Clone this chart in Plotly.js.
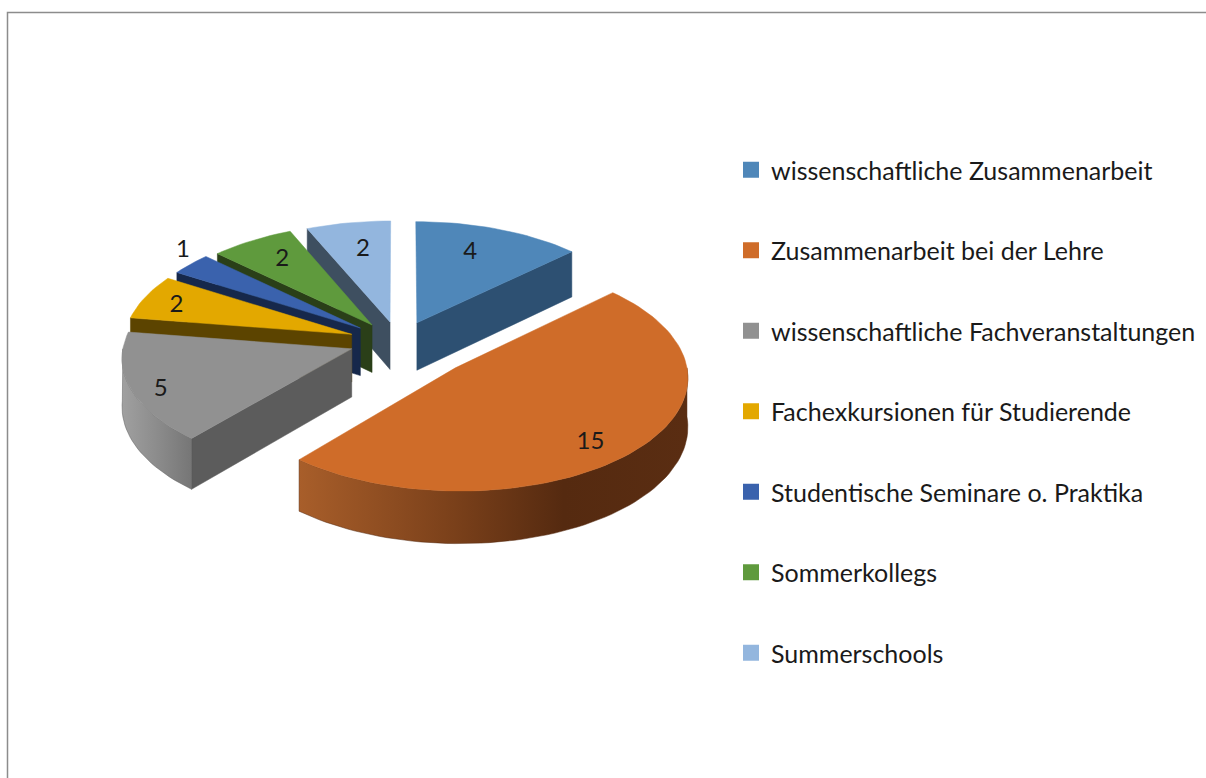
<!DOCTYPE html>
<html>
<head>
<meta charset="utf-8">
<script src="https://cdn.plot.ly/plotly-3.0.1.min.js"></script>
<style>html,body{margin:0;padding:0;background:#fff}#chart{width:1206px;height:778px}</style>
</head>
<body>
<div id="chart"></div>
<script>
// ---- data ----
const categories = [
  "wissenschaftliche Zusammenarbeit",
  "Zusammenarbeit bei der Lehre",
  "wissenschaftliche Fachveranstaltungen",
  "Fachexkursionen für Studierende",
  "Studentische Seminare o. Praktika",
  "Sommerkollegs",
  "Summerschools"
];
const values = [4, 15, 5, 2, 1, 2, 2];

// ---- style ----
const topColors  = ["#4f87b9", "#cf6c29", "#919191", "#e3a800", "#3a62ad", "#5f9a3d", "#93b6de"];
const wallColors = ["#2d5072", "#55290f", "#5c5c5c", "#5c4400", "#16284b", "#2a3f18", "#3e4f60"];
const rimGradients = {
  1: [[0, "#a85e2a"], [0.4, "#7a401a"], [0.68, "#552a10"], [1, "#5a2d12"]],
  2: [[0, "#a0a0a0"], [0.5, "#8c8c8c"], [1, "#767676"]]
};

// ---- projection of the tilted pie ----
const view = {cx: 400, cy: 343, rx: 228, ry: 111, depth: 48, persp: 0.07};
const explodeX = [0.19, 0.33, 0.225, 0.227, 0.222, 0.217, 0.22];
const explodeY = [0.2, 0.32, 0.15, 0.227, 0.222, 0.2, 0.195];
const labelAt = [[0.44, 0.72], [0.53, 0.83], [0.44, 0.884], [0.42, 0.834], [0.85, 1.12], [0.53, 0.75], [0.55, 0.71]];
const paintOrder = [6, 0, 5, 4, 3, 2, 1];

const total = values.reduce((a, b) => a + b, 0);
const rad = d => d * Math.PI / 180;
let acc = 0;
const slices = values.map((v, i) => {
  const a0 = acc / total * 360;
  acc += v;
  return {i, a0, a1: acc / total * 360, mid: (a0 + acc / total * 360) / 2};
});

function project(s, angle, r, down) {
  const X = r * Math.sin(rad(angle)) + explodeX[s.i] * Math.sin(rad(s.mid));
  const Y = -r * Math.cos(rad(angle)) - explodeY[s.i] * Math.cos(rad(s.mid));
  const k = 1 / (1 - view.persp * Y);
  return [view.cx + view.rx * X * k, view.cy + view.ry * Y * k + (down ? view.depth * k : 0)];
}
function arc(s, from, to, down) {
  const n = Math.max(4, Math.ceil(Math.abs(to - from) / 2));
  const pts = [];
  for (let j = 0; j <= n; j++) pts.push(project(s, from + (to - from) * j / n, 1, down));
  return pts;
}
function poly(pts, color, extra) {
  const closed = pts.concat([pts[0]]);
  return Object.assign({
    type: "scatter", mode: "lines", x: closed.map(p => p[0]), y: closed.map(p => p[1]),
    fill: "toself", fillcolor: color, line: {width: 0.5, color: color},
    hoverinfo: "skip", showlegend: false
  }, extra || {});
}
function radialWall(s, angle, color) {
  return poly([project(s, 0, 0, false), project(s, angle, 1, false), project(s, angle, 1, true), project(s, 0, 0, true)], color);
}

const traces = [];
paintOrder.forEach(idx => {
  const s = slices[idx];
  const wall = wallColors[idx];
  // radial walls that face the viewer
  if (-Math.cos(rad(s.a0 - 90)) > 0.01) traces.push(radialWall(s, s.a0, wall));
  if (-Math.cos(rad(s.a1 + 90)) > 0.01) traces.push(radialWall(s, s.a1, wall));
  // outer rim, front half only
  const from = Math.max(s.a0, 90), to = Math.min(s.a1, 270);
  if (to > from) {
    const pts = arc(s, from, to, false).concat(arc(s, to, from, true));
    const grad = rimGradients[idx];
    const extra = grad ? {fillgradient: {type: "horizontal", colorscale: grad}} : {};
    traces.push(poly(pts, wall, extra));
  }
  // top face
  traces.push(poly([project(s, 0, 0, false)].concat(arc(s, s.a0, s.a1, false)), topColors[idx]));
});

// value labels
const labelPts = slices.map(s => project(s, s.a0 + (s.a1 - s.a0) * labelAt[s.i][0], labelAt[s.i][1], false));
traces.push({
  type: "scatter", mode: "text", x: labelPts.map(p => p[0]), y: labelPts.map(p => p[1]),
  text: values.map(String), textposition: "middle center",
  textfont: {family: "Lato, sans-serif", size: 24, color: "#1a1a1a"},
  hoverinfo: "skip", showlegend: false
});

// legend entries
categories.forEach((c, i) => traces.push({
  type: "scatter", mode: "markers", x: [null], y: [null], name: c, legendgroup: "g" + i,
  marker: {symbol: "square", size: 16, color: topColors[i]}, hoverinfo: "skip"
}));

const layout = {
  width: 1206, height: 778, margin: {l: 0, r: 0, t: 0, b: 0},
  paper_bgcolor: "#fff", plot_bgcolor: "#fff",
  xaxis: {range: [0, 1206], visible: false, fixedrange: true},
  yaxis: {range: [778, 0], visible: false, fixedrange: true},
  legend: {
    x: 731 / 1206, y: 1 - 147 / 778, xanchor: "left", yanchor: "top",
    font: {family: "Lato, sans-serif", size: 25, color: "#1a1a1a"},
    tracegroupgap: 45, bgcolor: "rgba(0,0,0,0)"
  },
  shapes: [{
    type: "path", xref: "x", yref: "y", path: "M 7.5 778 L 7.5 12.5 L 1206 12.5",
    line: {color: "#8c8c8c", width: 1.5}, layer: "below"
  }]
};
Plotly.newPlot("chart", traces, layout, {displayModeBar: false, staticPlot: true});
</script>
</body>
</html>
